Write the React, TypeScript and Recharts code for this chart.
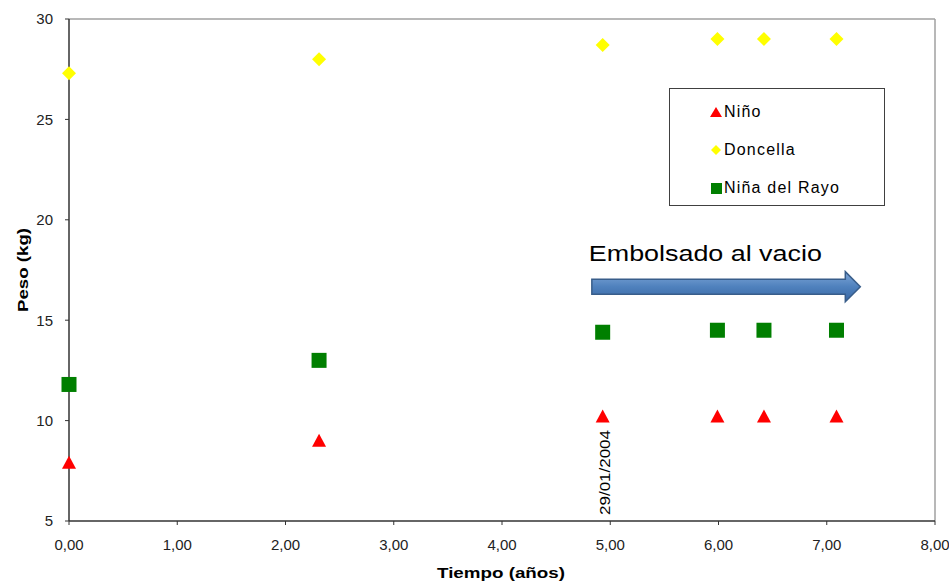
import React from "react";
import {
  ScatterChart, Scatter, XAxis, YAxis, ReferenceLine, ReferenceDot
} from "recharts";

const yearsX   = [0, 2.31, 4.93, 5.99, 6.42, 7.09];
const ninoY    = [7.9, 9.0, 10.2, 10.2, 10.2, 10.2];
const doncellaY = [27.3, 28.0, 28.7, 29.0, 29.0, 29.0];
const rayoY    = [11.8, 13.0, 14.4, 14.5, 14.5, 14.5];
const xTicks   = [0, 1, 2, 3, 4, 5, 6, 7, 8];
const yTicks   = [5, 10, 15, 20, 25, 30];

const seriesNames = ["Niño", "Doncella", "Niña del Rayo"];
const seriesColors = ["#ff0000", "#ffff00", "#007f00"];

const toPoints = (ys: number[]) => yearsX.map((x, i) => ({ x, y: ys[i] }));

const FONT = "Arial, 'Liberation Sans', sans-serif";

const Triangle = ({ cx, cy, s = 7 }: any) => (
  <polygon points={`${cx},${cy - s} ${cx + s},${cy + s * 0.85} ${cx - s},${cy + s * 0.85}`} fill={seriesColors[0]} />
);
const Diamond = ({ cx, cy, s = 7 }: any) => (
  <polygon points={`${cx},${cy - s} ${cx + s},${cy} ${cx},${cy + s} ${cx - s},${cy}`} fill={seriesColors[1]} />
);
const Square = ({ cx, cy, s = 7.5 }: any) => (
  <rect x={cx - s} y={cy - s} width={s * 2} height={s * 2} fill={seriesColors[2]} />
);

const Arrow = ({ x1, y1, x2 }: any) => {
  const h = 7.5, hh = 15, head = 15;
  const pts = `${x1},${y1 - h} ${x2 - head},${y1 - h} ${x2 - head},${y1 - hh} ${x2},${y1} ${x2 - head},${y1 + hh} ${x2 - head},${y1 + h} ${x1},${y1 + h}`;
  return (
    <g>
      <defs>
        <linearGradient id="arrowGrad" x1="0" y1="0" x2="0" y2="1">
          <stop offset="0%" stopColor="#7fa6d8" />
          <stop offset="50%" stopColor="#4f81bd" />
          <stop offset="100%" stopColor="#3a68a4" />
        </linearGradient>
      </defs>
      <polygon points={pts} fill="url(#arrowGrad)" stroke="#385d8a" strokeWidth={1.5} />
      <text x={x1 - 3} y={y1 - 26} fontFamily={FONT} fontSize={22} fill="#000" textLength={233} lengthAdjust="spacingAndGlyphs">
        Embolsado al vacio
      </text>
    </g>
  );
};

const DateLabel = ({ cx, cy }: any) => (
  <text
    x={cx + 7} y={cy}
    transform={`rotate(-90, ${cx + 7}, ${cy})`}
    fontFamily={FONT} fontSize={14} fill="#000"
    textLength={85} lengthAdjust="spacingAndGlyphs"
  >
    29/01/2004
  </text>
);

const LegendBox = () => (
  <div style={{
    position: "absolute", left: 669, top: 88,
    width: 216, height: 118, border: "1.5px solid #404040", background: "#fff",
    fontFamily: FONT, fontSize: 16, color: "#000", boxSizing: "border-box",
  }}>
    {seriesNames.map((name, i) => (
      <div key={name} style={{ position: "absolute", left: 39, top: 11 + i * 38, height: 24, display: "flex", alignItems: "center" }}>
        <svg width={14} height={14} style={{ marginRight: 1 }}>
          {i === 0 && <polygon points="7,2 13,12 1,12" fill={seriesColors[0]} />}
          {i === 1 && <polygon points="7,2 12,7 7,12 2,7" fill={seriesColors[1]} />}
          {i === 2 && <rect x={2} y={2} width={11} height={11} fill={seriesColors[2]} />}
        </svg>
        <span style={{ letterSpacing: 1.2 }}>{name}</span>
      </div>
    ))}
  </div>
);

export default function App() {
  return (
    <div style={{ width: 949, height: 584, background: "#fff", position: "relative" }}>
      <style>{"body{margin:0}"}</style>
      <ScatterChart width={949} height={584} margin={{ top: 19, right: 14, bottom: 33, left: 39 }}>
        <XAxis
          type="number" dataKey="x" domain={[0, 8]} ticks={xTicks} interval={0}
          tickFormatter={(v: number) => v.toFixed(2).replace(".", ",")}
          axisLine={{ stroke: "#333", strokeWidth: 1.5 }}
          tickLine={{ stroke: "#333" }} tickSize={4} tickMargin={14} height={30}
          tick={{ fill: "#222", fontSize: 15, fontFamily: FONT }}
        />
        <YAxis
          type="number" dataKey="y" domain={[5, 30]} ticks={yTicks} interval={0}
          axisLine={{ stroke: "#333", strokeWidth: 1.5 }}
          tickLine={{ stroke: "#333" }} tickSize={4} tickMargin={12} width={30}
          tick={{ fill: "#222", fontSize: 15, fontFamily: FONT }}
        />
        <ReferenceLine y={30} stroke="#a0a0a0" strokeWidth={1.5} />
        <ReferenceLine x={8} stroke="#a0a0a0" strokeWidth={1.5} />
        <ReferenceLine
          segment={[{ x: 4.83, y: 16.67 }, { x: 7.31, y: 16.67 }]}
          shape={(p: any) => <Arrow {...p} />}
        />
        <ReferenceDot x={4.93} y={5.3} r={0} shape={(p: any) => <DateLabel {...p} />} />
        <Scatter name={seriesNames[0]} data={toPoints(ninoY)} shape={(p: any) => <Triangle {...p} />} isAnimationActive={false} />
        <Scatter name={seriesNames[1]} data={toPoints(doncellaY)} shape={(p: any) => <Diamond {...p} />} isAnimationActive={false} />
        <Scatter name={seriesNames[2]} data={toPoints(rayoY)} shape={(p: any) => <Square {...p} />} isAnimationActive={false} />
      </ScatterChart>
      <LegendBox />
      <svg width={949} height={584} style={{ position: "absolute", left: 0, top: 0, pointerEvents: "none" }}>
        <text x={501} y={578} textAnchor="middle" fontFamily={FONT} fontSize={15} fontWeight="bold" textLength={128} lengthAdjust="spacingAndGlyphs">
          Tiempo (años)
        </text>
        <text x={28} y={270} textAnchor="middle" transform="rotate(-90, 28, 270)" fontFamily={FONT} fontSize={15} fontWeight="bold" textLength={84} lengthAdjust="spacingAndGlyphs">
          Peso (kg)
        </text>
      </svg>
    </div>
  );
}
